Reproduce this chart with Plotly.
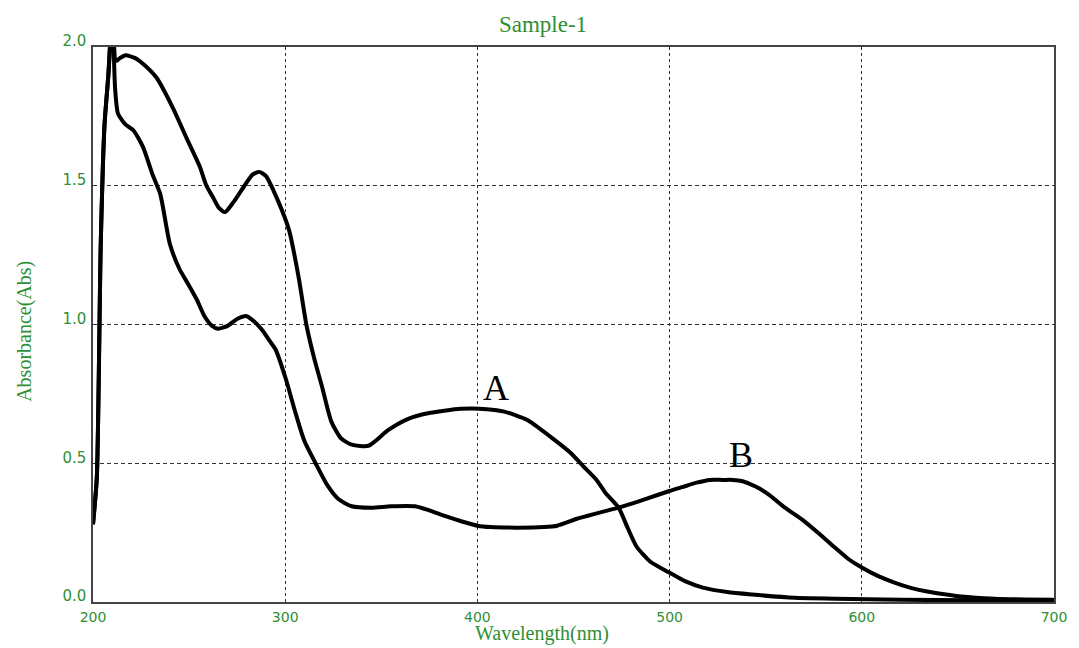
import plotly.graph_objects as go

# Absorbance spectra, curve A (upper, broad band near 400 nm)
wl_a = [200, 202, 204, 206, 208, 210, 212, 214, 217, 222, 226, 233, 241.6, 248.8,
        255.5, 259, 262.3, 265.5, 268.7, 273, 278.8, 283, 286.5, 290, 296, 302,
        307, 311, 315, 319, 324, 329, 334.6, 343.3, 353.7, 364, 374.3, 391.4,
        405, 414, 426, 437.9, 448.4, 455, 462, 467, 473.5, 478, 482.8, 490,
        499.9, 508, 517.3, 530, 543, 565, 586, 620, 660, 700]
abs_a = [0.28, 0.45, 1.28, 1.72, 1.90, 2.12, 1.95, 1.96, 1.97, 1.96, 1.94, 1.89, 1.78, 1.67,
         1.57, 1.50, 1.46, 1.42, 1.405, 1.44, 1.50, 1.54, 1.55, 1.535, 1.45, 1.34,
         1.17, 1.00, 0.88, 0.78, 0.65, 0.59, 0.567, 0.563, 0.62, 0.66, 0.68, 0.696,
         0.695, 0.686, 0.656, 0.596, 0.538, 0.49, 0.44, 0.39, 0.34, 0.27, 0.20, 0.145,
         0.106, 0.075, 0.052, 0.036, 0.027, 0.015, 0.012, 0.008, 0.006, 0.005]

# Absorbance spectra, curve B (lower, band near 530 nm)
wl_b = [200, 202, 204, 206, 208, 210, 211.5, 213, 217, 221, 226, 231, 235, 240, 245,
        250, 254, 258, 262, 265, 270, 275, 280, 284, 288, 292, 295, 300.5, 305,
        310, 315.8, 322, 327.8, 334.6, 345, 355, 367.6, 375, 383, 392, 400, 407,
        420, 434.6, 441.5, 451.8, 457, 465, 473.5, 487, 499.9, 507, 514, 521,
        527.7, 533, 538, 545, 551.6, 560, 569, 578, 586, 593, 600, 608, 617, 625,
        634, 643, 651.7, 669, 685, 700]
abs_b = [0.28, 0.45, 1.28, 1.72, 1.90, 2.12, 1.85, 1.76, 1.72, 1.70, 1.64, 1.54, 1.47, 1.29, 1.20,
         1.14, 1.09, 1.03, 0.995, 0.985, 0.995, 1.02, 1.03, 1.01, 0.98, 0.94, 0.91, 0.80, 0.69,
         0.58, 0.50, 0.42, 0.37, 0.345, 0.34, 0.345, 0.345, 0.33, 0.31, 0.29, 0.275, 0.27,
         0.268, 0.27, 0.275, 0.30, 0.31, 0.325, 0.34, 0.37, 0.40, 0.415, 0.43, 0.44,
         0.44, 0.44, 0.435, 0.415, 0.387, 0.34, 0.297, 0.245, 0.196, 0.155, 0.124, 0.095, 0.07, 0.052,
         0.038, 0.028, 0.02, 0.012, 0.009, 0.008]

x_ticks = [200, 300, 400, 500, 600, 700]
y_ticks = [0.0, 0.5, 1.0, 1.5, 2.0]
y_tick_text = ["0.0", "0.5", "1.0", "1.5", "2.0"]

# Peak labels: (text, wavelength, absorbance)
peak_labels = [("A", 409.5, 0.772), ("B", 537, 0.53)]

GREEN = "#2f8f35"
SERIF = "Liberation Serif, Times New Roman, serif"
SANS = "DejaVu Sans, Verdana, sans-serif"

fig = go.Figure()
for wl, ab in ((wl_a, abs_a), (wl_b, abs_b)):
    fig.add_trace(go.Scatter(
        x=wl, y=ab, mode="lines",
        line=dict(color="black", width=4, shape="spline", smoothing=0.6),
        hoverinfo="skip",
    ))

for text, xv, yv in peak_labels:
    fig.add_annotation(x=xv, y=yv, text=text, showarrow=False,
                       font=dict(family=SERIF, size=36, color="black"),
                       xanchor="center", yanchor="middle")

# Axis titles placed as paper annotations
fig.add_annotation(text="Wavelength(nm)", xref="paper", yref="paper",
                   x=0.4675, y=-0.0819, showarrow=False,
                   xanchor="center", yanchor="bottom",
                   font=dict(family=SERIF, size=20, color=GREEN))
fig.add_annotation(text="Absorbance(Abs)", xref="paper", yref="paper",
                   x=-0.0708, y=0.4885, showarrow=False, textangle=-90,
                   xanchor="center", yanchor="middle",
                   font=dict(family=SERIF, size=20, color=GREEN))

fig.update_layout(
    width=1079, height=648,
    margin=dict(l=92.5, r=18.5, t=46.7, b=45.5),
    paper_bgcolor="white", plot_bgcolor="white",
    showlegend=False,
    title=dict(text="Sample-1", x=543 / 1079, xref="container", xanchor="center",
               y=1 - 24 / 648, yref="container", yanchor="middle",
               font=dict(family=SERIF, size=23, color=GREEN)),
)

fig.update_xaxes(
    range=[200, 700], tickvals=x_ticks, ticks="",
    tickfont=dict(family=SANS, size=14, color=GREEN),
    ticklabelstandoff=1,
    showgrid=True, gridcolor="#333333", gridwidth=1, griddash="3px,3px",
    zeroline=False, showline=True, linecolor="#444444", linewidth=1.5, mirror=True,
)
fig.update_yaxes(
    range=[0, 2], tickvals=y_ticks, ticktext=y_tick_text, ticks="",
    tickfont=dict(family=SANS, size=15, color=GREEN),
    ticklabelshift=-6, ticklabelstandoff=2,
    showgrid=True, gridcolor="#333333", gridwidth=1, griddash="4px,3px",
    zeroline=False, showline=True, linecolor="#444444", linewidth=1.5, mirror=True,
)

fig.write_html("out.html")
